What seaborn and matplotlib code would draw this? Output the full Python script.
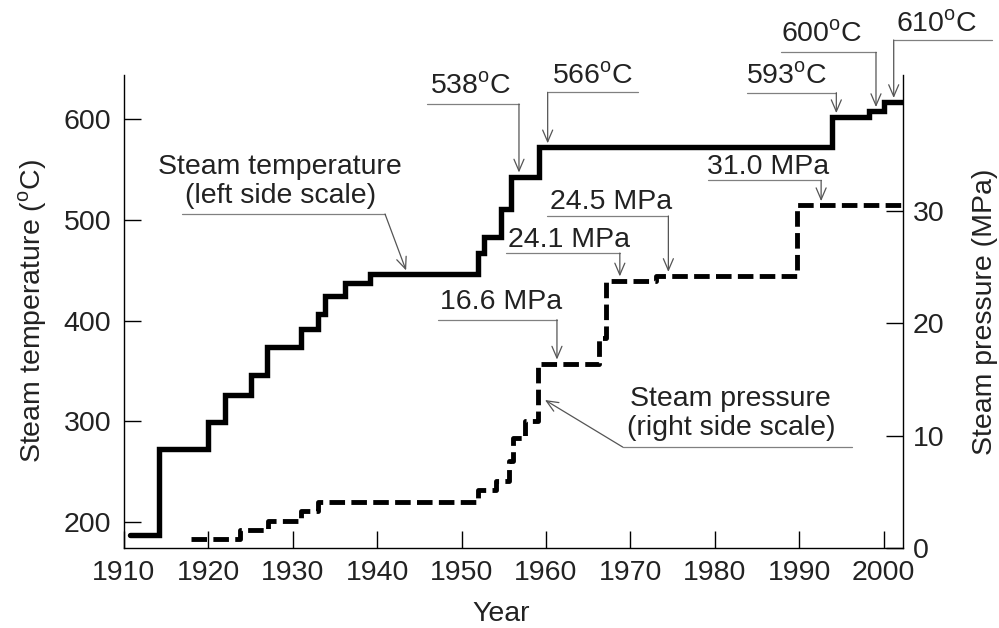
import matplotlib
matplotlib.use("Agg")
import matplotlib.pyplot as plt
import pandas as pd
import seaborn as sns

# Step data: year each new value starts, and the value
temp_years = [1910.7, 1914.1, 1919.9, 1922.0, 1925.0, 1927.0, 1931.0, 1933.0, 1933.8,
              1936.2, 1939.1, 1951.9, 1952.7, 1954.7, 1955.9, 1959.2, 1993.9, 1998.3,
              2000.1, 2002.3]
temp_values = [187, 273, 299, 326, 346, 374, 392, 407, 424,
               437, 446, 467, 483, 511, 543, 572, 602, 608,
               617, 617]

press_years = [1918.0, 1923.7, 1927.1, 1931.0, 1933.0, 1951.9, 1954.1, 1955.6, 1956.1,
               1957.5, 1959.1, 1966.3, 1967.1, 1973.0, 1989.8, 2002.3]
press_values = [0.8, 1.6, 2.4, 3.3, 4.1, 5.2, 6.0, 7.7, 9.8,
                11.3, 16.4, 18.7, 23.8, 24.2, 30.5, 30.5]

year_ticks = [1910, 1920, 1930, 1940, 1950, 1960, 1970, 1980, 1990, 2000]
temp_ticks = [200, 300, 400, 500, 600]
press_ticks = [0, 10, 20, 30]

temp_df = pd.DataFrame({"year": temp_years, "temp": temp_values})
press_df = pd.DataFrame({"year": press_years, "press": press_values})

sns.set_theme(style="ticks")
plt.rcParams["font.family"] = ["Liberation Sans", "DejaVu Sans"]
plt.rcParams["mathtext.fontset"] = "custom"
plt.rcParams["mathtext.rm"] = "Liberation Sans"
plt.rcParams["lines.solid_joinstyle"] = "miter"

FS = 20.5
TXT = "#222222"
GREY = "#808080"
ARROW = "#555555"

fig = plt.figure(figsize=(9.99, 6.28), dpi=100)
ax = fig.add_axes([0.1241, 0.1274, 0.7798, 0.7532])
ax2 = ax.twinx()

sns.lineplot(data=temp_df, x="year", y="temp", ax=ax, drawstyle="steps-post",
             color="black", linewidth=3.9)
sns.lineplot(data=press_df, x="year", y="press", ax=ax2, drawstyle="steps-post",
             color="black", linewidth=3.5, linestyle=(0, (3.2, 1.3)))


def callout(axis, label, text_xy, leader_y, leader_x, elbow_x, target):
    axis.text(text_xy[0], text_xy[1], label, ha="left", va="baseline",
              fontsize=FS, color=TXT, clip_on=False)
    axis.plot(leader_x, [leader_y, leader_y], color=GREY, lw=0.9,
              clip_on=False, scalex=False, scaley=False)
    axis.annotate("", xy=target, xytext=(elbow_x, leader_y), annotation_clip=False,
                  arrowprops=dict(arrowstyle="->,head_length=0.7,head_width=0.3",
                                  color=ARROW, lw=0.9, shrinkA=0, shrinkB=3))


deg = "$^{\\rm o}$C"
# temperature callouts (left scale)
callout(ax, "538" + deg, (1946.25, 625.8), 615.2, [1945.9, 1956.8], 1956.8, (1956.8, 543))
callout(ax, "566" + deg, (1960.66, 635.8), 626.8, [1960.2, 1970.9], 1960.2, (1960.2, 572))
callout(ax, "593" + deg, (1983.75, 635.8), 626.4, [1983.8, 1994.4], 1994.4, (1994.4, 602))
callout(ax, "600" + deg, (1987.9, 677.1), 666.5, [1987.9, 1999.1], 1999.1, (1999.1, 608))
callout(ax, "610" + deg, (2001.5, 687.0), 678.8, [2001.2, 2012.9], 2001.2, (2001.2, 617))

# pressure callouts (right scale)
callout(ax2, "16.6 MPa", (1947.44, 21.3), 20.32, [1947.2, 1961.3], 1961.3, (1961.3, 16.4))
callout(ax2, "24.1 MPa", (1955.5, 26.79), 26.25, [1955.3, 1968.75], 1968.75, (1968.75, 23.8))
callout(ax2, "24.5 MPa", (1960.46, 30.2), 29.55, [1960.07, 1974.5], 1974.5, (1974.5, 24.2))
callout(ax2, "31.0 MPa", (1979.13, 33.32), 32.72, [1979.17, 1992.6], 1992.6, (1992.6, 30.5))

# series labels
ax.text(1928.5, 538.7, "Steam temperature\n(left side scale)", ha="center", va="center",
        fontsize=FS, color=TXT, linespacing=1.15)
ax.plot([1916.86, 1940.93], [505.9, 505.9], color=GREY, lw=0.9, scalex=False, scaley=False)
ax.annotate("", xy=(1943.6, 446), xytext=(1940.93, 505.9),
            arrowprops=dict(arrowstyle="->,head_length=0.7,head_width=0.3",
                            color=ARROW, lw=0.9, shrinkA=0, shrinkB=3))

ax2.text(1981.9, 11.98, "Steam pressure\n(right side scale)", ha="center", va="center",
         fontsize=FS, color=TXT, linespacing=1.15)
ax2.plot([1969.1, 1996.2], [8.98, 8.98], color=GREY, lw=0.9, scalex=False, scaley=False)
ax2.annotate("", xy=(1959.6, 13.3), xytext=(1969.1, 8.98),
             arrowprops=dict(arrowstyle="->,head_length=0.7,head_width=0.3",
                             color=ARROW, lw=0.9, shrinkA=0, shrinkB=2))

# axes styling
ax.set_xlim(1910, 2002.3)
ax.set_ylim(174.2, 644)
ax2.set_ylim(0, 42.1)
ax.set_xticks(year_ticks)
ax.set_yticks(temp_ticks)
ax2.set_yticks(press_ticks)

for a in (ax, ax2):
    a.spines["top"].set_visible(False)
    for s in a.spines.values():
        s.set_linewidth(1.0)
        s.set_color("black")
ax.spines["right"].set_visible(False)
ax2.spines["left"].set_visible(False)
ax2.spines["bottom"].set_visible(False)

ax.tick_params(axis="both", direction="in", length=12.5, width=1.0, pad=9,
               labelsize=FS, labelcolor=TXT, color="black")
ax2.tick_params(axis="y", direction="in", length=12.5, width=1.0, pad=7,
                labelsize=FS, labelcolor=TXT, color="black")

ax.set_xlabel("Year", fontsize=FS, color=TXT)
ax.xaxis.set_label_coords(0.484, -0.112)
ax.set_ylabel("Steam temperature (" + deg + ")", fontsize=FS, color=TXT, labelpad=11)
ax2.set_ylabel("Steam pressure (MPa)", fontsize=FS, color=TXT, labelpad=20)

fig.savefig("out.png", dpi=100)
